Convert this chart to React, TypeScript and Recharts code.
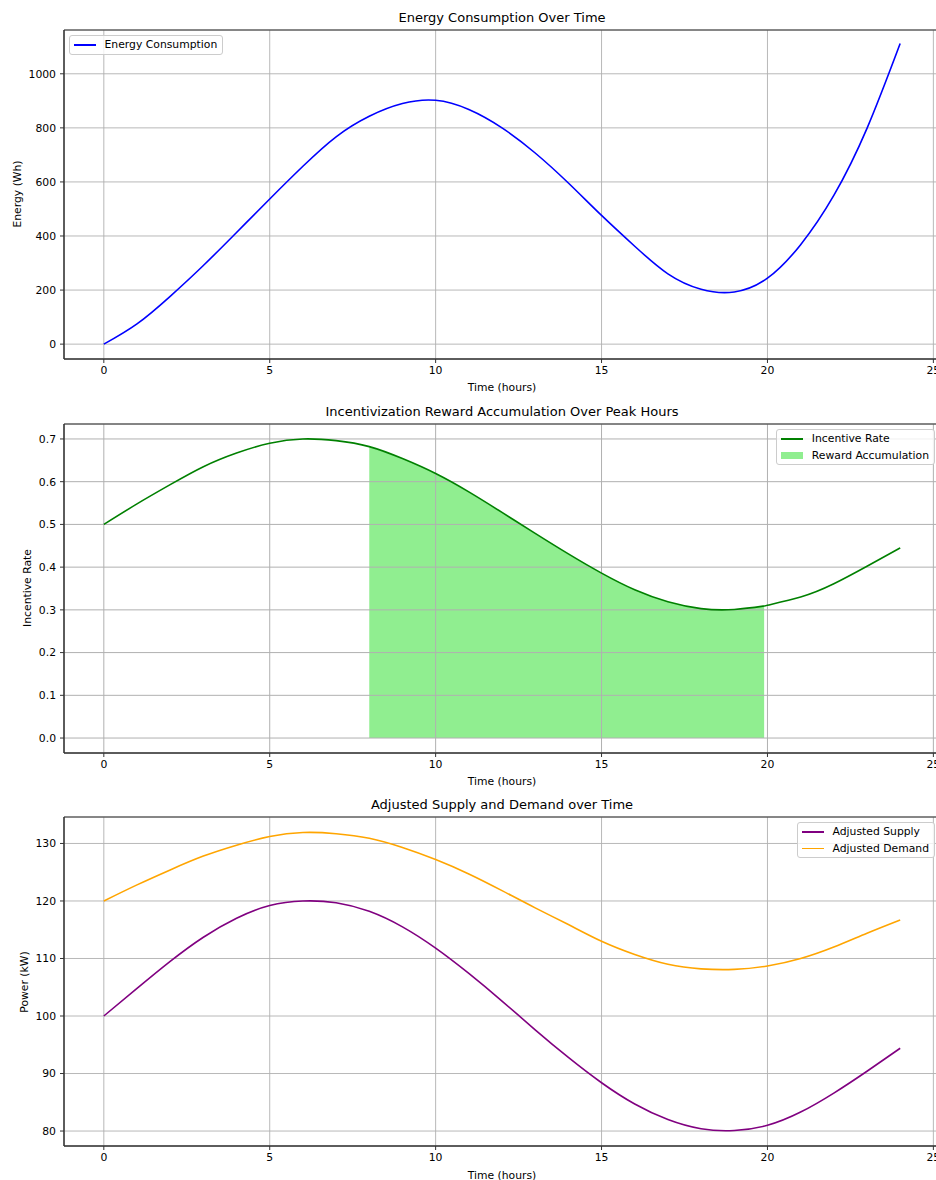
import React from 'react';
import {
  LineChart,
  ComposedChart,
  Line,
  Area,
  XAxis,
  YAxis,
  CartesianGrid,
  ReferenceArea,
} from 'recharts';

// values
const hours = [0, 1, 2, 3, 4, 5, 6, 7, 8, 9, 10, 11, 12, 13, 14, 15, 16, 17, 18, 19, 20, 21, 22, 23, 24];
const energyWh = [0, 75, 177, 291, 413, 537, 658, 767, 843, 890, 902, 868, 800, 707, 596, 476, 362, 260, 203, 193, 244, 368, 550, 798, 1112];

const incentiveHours = [0, 1, 2, 3, 4, 5, 6, 7, 8, 9, 10, 11, 12, 13, 14, 15, 16, 17, 18, 19, 19.9, 20, 21, 22, 23, 24];
const incentiveRate = [0.5, 0.548, 0.593, 0.635, 0.667, 0.69, 0.7, 0.696, 0.682, 0.654, 0.619, 0.576, 0.528, 0.479, 0.431, 0.386, 0.347, 0.319, 0.303, 0.301, 0.309, 0.311, 0.33, 0.361, 0.402, 0.445];
const peakStart = 8;
const peakEnd = 19.9;

const supplyKw = [100, 104.8, 109.5, 113.7, 117.0, 119.2, 120.0, 119.7, 118.2, 115.5, 111.8, 107.4, 102.6, 97.6, 92.8, 88.4, 84.7, 82.0, 80.4, 80.1, 81.0, 83.3, 86.6, 90.4, 94.4];
const demandKw = [120, 122.8, 125.4, 127.8, 129.7, 131.2, 131.9, 131.7, 130.9, 129.3, 127.2, 124.7, 121.8, 118.8, 115.9, 113.0, 110.7, 109.0, 108.2, 108.1, 108.7, 110.0, 112.0, 114.4, 116.7];

const timeTicks = [0, 5, 10, 15, 20, 25];
const energyTicks = [0, 200, 400, 600, 800, 1000];
const rateTicks = [0, 0.1, 0.2, 0.3, 0.4, 0.5, 0.6, 0.7];
const powerTicks = [80, 90, 100, 110, 120, 130];

const energyRows = hours.map((t, i) => ({ t, energy: energyWh[i] }));
const incentiveRows = incentiveHours.map((t, i) => ({
  t,
  rate: incentiveRate[i],
  reward: t >= peakStart && t <= peakEnd ? incentiveRate[i] : null,
}));
const gridRows = hours.map((t, i) => ({ t, supply: supplyKw[i], demand: demandKw[i] }));

const FONT = '"DejaVu Sans", Verdana, sans-serif';
const CHART_W = 980;
const CHART_H = 394;
const MARGIN = { top: 30, right: 40, left: 8, bottom: 5 };
const X_DOMAIN: [number, number] = [-1.2, 25.2];
const GRID = '#b0b0b0';
const SPINE = '#333';
const tickStyle = { fill: '#000', fontSize: 10.8, fontFamily: FONT };

type LegendItem = { label: string; color: string; kind: 'line' | 'patch' };

function ChartLegend({ items, style }: { items: LegendItem[]; style: React.CSSProperties }) {
  return (
    <div
      style={{
        position: 'absolute',
        zIndex: 5,
        background: 'rgba(255,255,255,0.8)',
        border: '1px solid #cccccc',
        borderRadius: 3,
        padding: '2px 5px 2px 4px',
        fontFamily: FONT,
        fontSize: 10.8,
        color: '#000',
        ...style,
      }}
    >
      {items.map((it, i) => (
        <div
          key={it.label}
          style={{ display: 'flex', alignItems: 'center', height: 13.5, marginTop: i === 0 ? 0 : 3.2, whiteSpace: 'nowrap' }}
        >
          {it.kind === 'line' ? (
            <span style={{ width: 22, height: 1.6, background: it.color, marginRight: 8.5 }} />
          ) : (
            <span style={{ width: 22, height: 7.5, background: it.color, marginRight: 8.5 }} />
          )}
          <span>{it.label}</span>
        </div>
      ))}
    </div>
  );
}

function Title({ text, top }: { text: string; top: number }) {
  return (
    <div
      style={{
        position: 'absolute',
        zIndex: 5,
        left: 64,
        width: 876,
        top,
        textAlign: 'center',
        fontFamily: FONT,
        fontSize: 13,
        lineHeight: '16px',
        color: '#000',
        whiteSpace: 'nowrap',
      }}
    >
      {text}
    </div>
  );
}

function AxisLabel({ text, x, y, vertical }: { text: string; x: number; y: number; vertical?: boolean }) {
  return (
    <div
      style={{
        position: 'absolute',
        zIndex: 5,
        left: x,
        top: y,
        transform: vertical ? 'translate(-50%, -50%) rotate(-90deg)' : 'translate(-50%, -50%)',
        fontFamily: FONT,
        fontSize: 10.8,
        lineHeight: '13px',
        color: '#000',
        whiteSpace: 'nowrap',
      }}
    >
      {text}
    </div>
  );
}

function xAxisProps(visible = true) {
  return {
    dataKey: 't',
    type: 'number' as const,
    domain: X_DOMAIN,
    ticks: timeTicks,
    allowDataOverflow: true,
    height: 30,
    tickSize: 4,
    tickMargin: 3,
    tick: visible ? tickStyle : false,
    axisLine: visible ? { stroke: SPINE, strokeWidth: 1 } : false,
    tickLine: visible ? { stroke: SPINE, strokeWidth: 1 } : false,
  };
}

function yAxisProps(domain: [number, number], ticks: number[], fmt?: (v: number) => string, visible = true) {
  return {
    type: 'number' as const,
    domain,
    ticks,
    allowDataOverflow: true,
    width: 56,
    tickSize: 4,
    tickMargin: 4,
    tick: visible ? tickStyle : false,
    tickFormatter: fmt,
    axisLine: visible ? { stroke: SPINE, strokeWidth: 1 } : false,
    tickLine: visible ? { stroke: SPINE, strokeWidth: 1 } : false,
  };
}

const ENERGY_Y: [number, number] = [-55, 1162];
const RATE_Y: [number, number] = [-0.035, 0.735];
const POWER_Y: [number, number] = [77.4, 134.6];

export default function App() {
  return (
    <div
      style={{
        position: 'absolute',
        left: 0,
        top: 0,
        width: 936,
        height: 1180,
        overflow: 'hidden',
        background: '#fff',
      }}
    >
      {/* Energy consumption */}
      <div style={{ position: 'absolute', left: 0, top: 0, zIndex: 1 }}>
        <LineChart width={CHART_W} height={CHART_H} data={energyRows} margin={MARGIN}>
          <CartesianGrid stroke={GRID} strokeWidth={0.9} />
          <XAxis {...xAxisProps()} />
          <YAxis {...yAxisProps(ENERGY_Y, energyTicks)} />
          <Line
            type="natural"
            dataKey="energy"
            stroke="#0000ff"
            strokeWidth={1.6}
            dot={false}
            activeDot={false}
            isAnimationActive={false}
          />
          <ReferenceArea x1={X_DOMAIN[0]} x2={X_DOMAIN[1]} y1={ENERGY_Y[0]} y2={ENERGY_Y[1]} fill="none" stroke={SPINE} strokeWidth={1} />
        </LineChart>
      </div>
      <Title text="Energy Consumption Over Time" top={10} />
      <AxisLabel text="Time (hours)" x={502} y={387} />
      <AxisLabel text="Energy (Wh)" x={17} y={194} vertical />
      <ChartLegend style={{ left: 69, top: 35 }} items={[{ label: 'Energy Consumption', color: '#0000ff', kind: 'line' }]} />

      {/* Incentive reward: shaded area underneath, grid + line drawn on top of it */}
      <div style={{ position: 'absolute', left: 0, top: 394, zIndex: 1 }}>
        <ComposedChart width={CHART_W} height={CHART_H} data={incentiveRows} margin={MARGIN}>
          <XAxis {...xAxisProps(false)} />
          <YAxis {...yAxisProps(RATE_Y, rateTicks, undefined, false)} />
          <Area
            type="natural"
            dataKey="reward"
            baseValue={0}
            fill="#90ee90"
            fillOpacity={1}
            stroke="none"
            dot={false}
            activeDot={false}
            isAnimationActive={false}
          />
        </ComposedChart>
      </div>
      <div style={{ position: 'absolute', left: 0, top: 394, zIndex: 2, pointerEvents: 'none' }}>
        <LineChart width={CHART_W} height={CHART_H} data={incentiveRows} margin={MARGIN}>
          <CartesianGrid stroke={GRID} strokeWidth={1} />
          <XAxis {...xAxisProps()} />
          <YAxis {...yAxisProps(RATE_Y, rateTicks, (v) => v.toFixed(1))} />
          <Line
            type="natural"
            dataKey="rate"
            stroke="#008000"
            strokeWidth={1.6}
            dot={false}
            activeDot={false}
            isAnimationActive={false}
          />
          <ReferenceArea x1={X_DOMAIN[0]} x2={X_DOMAIN[1]} y1={RATE_Y[0]} y2={RATE_Y[1]} fill="none" stroke={SPINE} strokeWidth={1} />
        </LineChart>
      </div>
      <Title text="Incentivization Reward Accumulation Over Peak Hours" top={404} />
      <AxisLabel text="Time (hours)" x={502} y={781} />
      <AxisLabel text="Incentive Rate" x={27} y={588} vertical />
      <ChartLegend
        style={{ right: 1, top: 429 }}
        items={[
          { label: 'Incentive Rate', color: '#008000', kind: 'line' },
          { label: 'Reward Accumulation', color: '#90ee90', kind: 'patch' },
        ]}
      />

      {/* Supply and demand */}
      <div style={{ position: 'absolute', left: 0, top: 787, zIndex: 1 }}>
        <LineChart width={CHART_W} height={CHART_H} data={gridRows} margin={MARGIN}>
          <CartesianGrid stroke={GRID} strokeWidth={0.9} />
          <XAxis {...xAxisProps()} />
          <YAxis {...yAxisProps(POWER_Y, powerTicks)} />
          <Line
            type="natural"
            dataKey="supply"
            stroke="#800080"
            strokeWidth={1.6}
            dot={false}
            activeDot={false}
            isAnimationActive={false}
          />
          <Line
            type="natural"
            dataKey="demand"
            stroke="#ffa500"
            strokeWidth={1.6}
            dot={false}
            activeDot={false}
            isAnimationActive={false}
          />
          <ReferenceArea x1={X_DOMAIN[0]} x2={X_DOMAIN[1]} y1={POWER_Y[0]} y2={POWER_Y[1]} fill="none" stroke={SPINE} strokeWidth={1} />
        </LineChart>
      </div>
      <Title text="Adjusted Supply and Demand over Time" top={797} />
      <AxisLabel text="Time (hours)" x={502} y={1175} />
      <AxisLabel text="Power (kW)" x={24} y={982} vertical />
      <ChartLegend
        style={{ right: 1, top: 822 }}
        items={[
          { label: 'Adjusted Supply', color: '#800080', kind: 'line' },
          { label: 'Adjusted Demand', color: '#ffa500', kind: 'line' },
        ]}
      />
    </div>
  );
}
